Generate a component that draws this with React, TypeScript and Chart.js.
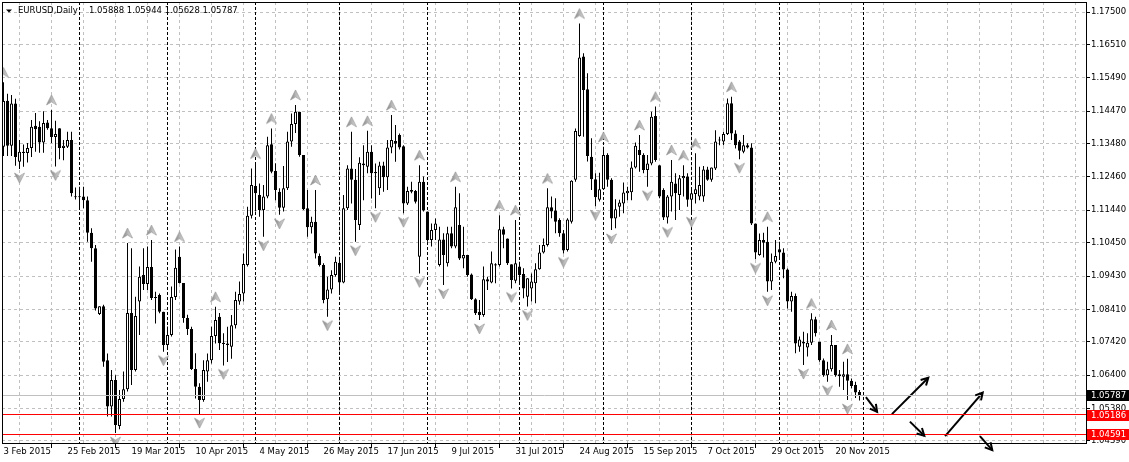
import { useEffect, useRef } from 'react';
import { Chart, registerables } from 'chart.js';

Chart.register(...registerables);

// ---- Daily EURUSD candles, bar 0 = 3 Feb 2015 ... bar 214 = 30 Nov 2015 ----
const openPrices = [
  1.1338, 1.1479, 1.1341, 1.1470, 1.1292, 1.1319, 1.1319, 1.1334, 1.1402, 1.1399,
  1.1351, 1.1412, 1.1395, 1.1368, 1.1395, 1.1334, 1.1338, 1.1359, 1.1186, 1.1184,
  1.1186, 1.1175, 1.1075, 1.1028, 1.0827, 1.0851, 1.0686, 1.0544, 1.0625, 1.0485,
  1.0567, 1.0597, 1.0830, 1.0656, 1.0865, 1.0946, 1.0919, 1.0971, 1.0876, 1.0885,
  1.0834, 1.0732, 1.0763, 1.0879, 1.1002, 1.0922, 1.0815, 1.0781, 1.0659, 1.0605,
  1.0564, 1.0651, 1.0686, 1.0760, 1.0819, 1.0739, 1.0737, 1.0727, 1.0793, 1.0865,
  1.0890, 1.0977, 1.1127, 1.1218, 1.1191, 1.1145, 1.1186, 1.1346, 1.1264, 1.1201,
  1.1152, 1.1211, 1.1354, 1.1408, 1.1445, 1.1313, 1.1150, 1.1092, 1.1109, 1.1004,
  1.0977, 1.0872, 1.0902, 1.0946, 1.0984, 1.0923, 1.1150, 1.1272, 1.1237, 1.1099,
  1.1287, 1.1277, 1.1323, 1.1261, 1.1211, 1.1281, 1.1245, 1.1336, 1.1356, 1.1374,
  1.1340, 1.1165, 1.1206, 1.1203, 1.1002, 1.1231, 1.1140, 1.1053, 1.1084, 1.0977,
  1.1055, 1.0982, 1.1074, 1.1033, 1.1099, 1.0997, 1.1007, 1.0948, 1.0872, 1.0834,
  1.0824, 1.0933, 1.0923, 1.0979, 1.0977, 1.1086, 1.1058, 1.0979, 1.0929, 1.0972,
  1.0949, 1.0880, 1.0905, 1.0921, 1.0964, 1.1015, 1.1038, 1.1153, 1.1143, 1.1114,
  1.1074, 1.1023, 1.1109, 1.1237, 1.1371, 1.1614, 1.1514, 1.1308, 1.1239, 1.1176,
  1.1208, 1.1313, 1.1237, 1.1119, 1.1155, 1.1165, 1.1196, 1.1199, 1.1275, 1.1328,
  1.1313, 1.1267, 1.1287, 1.1432, 1.1282, 1.1206, 1.1122, 1.1186, 1.1226, 1.1191,
  1.1242, 1.1247, 1.1176, 1.1194, 1.1186, 1.1186, 1.1269, 1.1237, 1.1272, 1.1359,
  1.1354, 1.1377, 1.1471, 1.1379, 1.1354, 1.1323, 1.1343, 1.1336, 1.1104, 1.1007,
  1.1053, 1.1048, 1.0926, 1.0987, 1.1025, 1.1015, 1.0963, 1.0865, 1.0882, 1.0727,
  1.0742, 1.0725, 1.0739, 1.0811, 1.0742, 1.0686, 1.0640, 1.0658, 1.0732, 1.0643,
  1.0635, 1.0643, 1.0623, 1.0610, 1.05888,
];
const highPrices = [
  1.1535, 1.1500, 1.1496, 1.1485, 1.1359, 1.1345, 1.1350, 1.1420, 1.1441, 1.1416,
  1.1447, 1.1420, 1.1451, 1.1418, 1.1395, 1.1359, 1.1384, 1.1384, 1.1214, 1.1216,
  1.1216, 1.1186, 1.1089, 1.1038, 1.0851, 1.0855, 1.0706, 1.0656, 1.0640, 1.0595,
  1.0651, 1.1044, 1.1028, 1.0880, 1.0972, 1.1028, 1.1033, 1.1053, 1.0895, 1.0890,
  1.0834, 1.0789, 1.0911, 1.1024, 1.1033, 1.0922, 1.0825, 1.0788, 1.0707, 1.0615,
  1.0686, 1.0706, 1.0788, 1.0849, 1.0830, 1.0768, 1.0788, 1.0824, 1.0895, 1.0926,
  1.1012, 1.1155, 1.1272, 1.1287, 1.1226, 1.1221, 1.1369, 1.1394, 1.1288, 1.1211,
  1.1279, 1.1384, 1.1440, 1.1466, 1.1445, 1.1313, 1.1206, 1.1124, 1.1206, 1.1012,
  1.0982, 1.0941, 1.0961, 1.1002, 1.0997, 1.1191, 1.1282, 1.1384, 1.1270, 1.1306,
  1.1343, 1.1387, 1.1343, 1.1287, 1.1292, 1.1292, 1.1359, 1.1435, 1.1405, 1.1379,
  1.1343, 1.1216, 1.1231, 1.1206, 1.1282, 1.1247, 1.1140, 1.1104, 1.1119, 1.1094,
  1.1074, 1.1094, 1.1094, 1.1216, 1.1196, 1.1094, 1.1007, 1.0951, 1.0875, 1.0870,
  1.0972, 1.0941, 1.1018, 1.0982, 1.1129, 1.1094, 1.1058, 1.0979, 1.1114, 1.0987,
  1.0967, 1.0936, 1.0951, 1.0982, 1.1038, 1.1058, 1.1211, 1.1186, 1.1181, 1.1120,
  1.1084, 1.1120, 1.1236, 1.1394, 1.1715, 1.1624, 1.1563, 1.1364, 1.1257, 1.1259,
  1.1338, 1.1318, 1.1242, 1.1178, 1.1176, 1.1229, 1.1216, 1.1293, 1.1351, 1.1374,
  1.1318, 1.1313, 1.1445, 1.1461, 1.1282, 1.1211, 1.1191, 1.1298, 1.1257, 1.1252,
  1.1282, 1.1257, 1.1206, 1.1318, 1.1277, 1.1279, 1.1277, 1.1275, 1.1389, 1.1369,
  1.1384, 1.1486, 1.1491, 1.1389, 1.1359, 1.1374, 1.1349, 1.1349, 1.1104, 1.1073,
  1.1075, 1.1094, 1.1012, 1.1053, 1.1048, 1.1028, 1.0966, 1.0895, 1.0890, 1.0758,
  1.0773, 1.0768, 1.0829, 1.0819, 1.0742, 1.0691, 1.0681, 1.0763, 1.0732, 1.0656,
  1.0681, 1.0690, 1.0630, 1.0620, 1.05944,
];
const lowPrices = [
  1.1310, 1.1310, 1.1310, 1.1280, 1.1270, 1.1277, 1.1290, 1.1307, 1.1323, 1.1320,
  1.1320, 1.1390, 1.1350, 1.1278, 1.1300, 1.1297, 1.1334, 1.1186, 1.1177, 1.1150,
  1.1150, 1.1048, 1.0987, 1.0838, 1.0824, 1.0666, 1.0514, 1.0514, 1.0463, 1.0475,
  1.0559, 1.0590, 1.0610, 1.0651, 1.0763, 1.0900, 1.0900, 1.0870, 1.0798, 1.0829,
  1.0712, 1.0722, 1.0758, 1.0870, 1.0920, 1.0800, 1.0763, 1.0656, 1.0569, 1.0521,
  1.0559, 1.0620, 1.0676, 1.0737, 1.0717, 1.0670, 1.0680, 1.0690, 1.0783, 1.0855,
  1.0865, 1.0972, 1.1119, 1.1140, 1.1124, 1.1063, 1.1181, 1.1257, 1.1175, 1.1130,
  1.1140, 1.1206, 1.1338, 1.1380, 1.1308, 1.1145, 1.1063, 1.1073, 1.0997, 1.0972,
  1.0860, 1.0819, 1.0890, 1.0941, 1.0890, 1.0921, 1.1145, 1.1165, 1.1048, 1.1084,
  1.1175, 1.1257, 1.1180, 1.1150, 1.1191, 1.1201, 1.1206, 1.1318, 1.1292, 1.1330,
  1.1135, 1.1160, 1.1196, 1.1165, 1.0951, 1.1140, 1.1048, 1.1033, 1.1053, 1.0972,
  1.0916, 1.0972, 1.1028, 1.1028, 1.0992, 1.0967, 1.0941, 1.0870, 1.0824, 1.0809,
  1.0819, 1.0900, 1.0921, 1.0921, 1.0972, 1.1028, 1.0977, 1.0905, 1.0921, 1.0921,
  1.0875, 1.0850, 1.0865, 1.0860, 1.0962, 1.1012, 1.1033, 1.1120, 1.1074, 1.1063,
  1.1012, 1.1018, 1.1104, 1.1231, 1.1369, 1.1369, 1.1293, 1.1206, 1.1156, 1.1171,
  1.1206, 1.1216, 1.1084, 1.1089, 1.1124, 1.1135, 1.1175, 1.1175, 1.1272, 1.1262,
  1.1257, 1.1216, 1.1282, 1.1292, 1.1181, 1.1114, 1.1104, 1.1140, 1.1114, 1.1145,
  1.1186, 1.1155, 1.1135, 1.1165, 1.1175, 1.1170, 1.1234, 1.1231, 1.1267, 1.1343,
  1.1343, 1.1374, 1.1359, 1.1333, 1.1300, 1.1318, 1.1333, 1.1099, 1.0994, 1.1005,
  1.1000, 1.0895, 1.0900, 1.0982, 1.0992, 1.0936, 1.0844, 1.0834, 1.0707, 1.0712,
  1.0671, 1.0697, 1.0732, 1.0758, 1.0681, 1.0635, 1.0620, 1.0651, 1.0635, 1.0605,
  1.0595, 1.0564, 1.0600, 1.0570, 1.05628,
];
const closePrices = [
  1.1478, 1.1341, 1.1470, 1.1307, 1.1323, 1.1323, 1.1334, 1.1399, 1.1392, 1.1351,
  1.1411, 1.1395, 1.1368, 1.1377, 1.1334, 1.1341, 1.1359, 1.1196, 1.1184, 1.1186,
  1.1175, 1.1075, 1.1028, 1.0844, 1.0851, 1.0681, 1.0544, 1.0625, 1.0488, 1.0567,
  1.0597, 1.0830, 1.0656, 1.0821, 1.0941, 1.0919, 1.0971, 1.0876, 1.0879, 1.0834,
  1.0732, 1.0763, 1.0879, 1.0968, 1.0922, 1.0815, 1.0781, 1.0659, 1.0605, 1.0564,
  1.0656, 1.0686, 1.0760, 1.0809, 1.0738, 1.0735, 1.0732, 1.0793, 1.0870, 1.0888,
  1.0980, 1.1127, 1.1221, 1.1196, 1.1145, 1.1186, 1.1343, 1.1262, 1.1206, 1.1152,
  1.1211, 1.1354, 1.1408, 1.1445, 1.1313, 1.1147, 1.1092, 1.1109, 1.1012, 1.0977,
  1.0870, 1.0902, 1.0946, 1.0987, 1.0923, 1.1150, 1.1272, 1.1237, 1.1114, 1.1289,
  1.1282, 1.1323, 1.1257, 1.1257, 1.1281, 1.1245, 1.1336, 1.1359, 1.1347, 1.1336,
  1.1165, 1.1203, 1.1201, 1.1170, 1.1231, 1.1143, 1.1053, 1.1084, 1.1104, 1.1055,
  1.1007, 1.1074, 1.1033, 1.1153, 1.0997, 1.1007, 1.0946, 1.0872, 1.0829, 1.0824,
  1.0933, 1.0926, 1.0982, 1.0975, 1.1086, 1.1069, 1.0982, 1.0931, 1.0982, 1.0946,
  1.0905, 1.0936, 1.0926, 1.0964, 1.1015, 1.1038, 1.1153, 1.1140, 1.1109, 1.1074,
  1.1021, 1.1116, 1.1234, 1.1386, 1.1611, 1.1512, 1.1310, 1.1239, 1.1184, 1.1208,
  1.1313, 1.1237, 1.1119, 1.1147, 1.1168, 1.1198, 1.1204, 1.1275, 1.1341, 1.1313,
  1.1267, 1.1287, 1.1430, 1.1298, 1.1186, 1.1122, 1.1186, 1.1231, 1.1196, 1.1242,
  1.1249, 1.1176, 1.1196, 1.1208, 1.1221, 1.1269, 1.1237, 1.1275, 1.1354, 1.1357,
  1.1377, 1.1471, 1.1379, 1.1343, 1.1326, 1.1343, 1.1336, 1.1104, 1.1015, 1.1053,
  1.1045, 1.0926, 1.0987, 1.1004, 1.1015, 1.0963, 1.0865, 1.0882, 1.0737, 1.0749,
  1.0737, 1.0739, 1.0811, 1.0768, 1.0686, 1.0640, 1.0658, 1.0732, 1.0640, 1.0637,
  1.0643, 1.0623, 1.0607, 1.0587, 1.05787,
];

// Bill Williams fractals (bar indices)
const upFractalBars = [0, 12, 31, 37, 44, 53, 63, 67, 73, 78, 87, 91, 97, 104, 113, 124, 128, 136, 144, 150, 159, 163, 167, 170, 173, 182, 191, 202, 207, 211];
const downFractalBars = [4, 13, 28, 40, 49, 55, 65, 69, 81, 88, 93, 100, 104, 110, 119, 127, 131, 140, 148, 152, 161, 166, 172, 184, 188, 191, 200, 206, 211];

// time axis
const dateLabels = ['3 Feb 2015', '25 Feb 2015', '19 Mar 2015', '10 Apr 2015', '4 May 2015', '26 May 2015', '17 Jun 2015', '9 Jul 2015', '31 Jul 2015', '24 Aug 2015', '15 Sep 2015', '7 Oct 2015', '29 Oct 2015', '20 Nov 2015'];
const dateLabelBars = [0, 16, 32, 48, 64, 80, 96, 112, 128, 144, 160, 176, 192, 208];
const gridBars = [0, 8, 16, 24, 32, 40, 48, 56, 64, 72, 80, 88, 96, 104, 112, 120, 128, 136, 144, 152, 160, 168, 176, 184, 192, 200, 208, 216, 224, 232, 240, 248, 256, 264];
const monthStartBars = [19, 41, 63, 84, 106, 129, 150, 172, 194, 215];

// price axis
const priceTicks = [1.175, 1.1651, 1.1549, 1.1447, 1.1348, 1.1246, 1.1144, 1.1045, 1.0943, 1.0841, 1.0742, 1.064, 1.0538, 1.0439];
const priceMin = 1.04297;
const priceMax = 1.17806;
const barMin = -0.375;
const barMax = 270.875;

// price lines
const bidPrice = 1.05787;
const levelPrices = [1.05186, 1.04591];

// drawn arrows (bar, price)
const arrowFromBar = [215.6, 222.1, 226.6, 235.4, 244.1];
const arrowFromPrice = [1.0573, 1.0521, 1.0498, 1.0454, 1.0454];
const arrowToBar = [218.4, 231.2, 230.2, 244.8, 247.2];
const arrowToPrice = [1.0528, 1.0632, 1.0455, 1.0587, 1.0411];

const symbolName = 'EURUSD,Daily';
const symbolOHLC = '1.05888 1.05944 1.05628 1.05787';

const FONT = '"DejaVu Sans"';
const FS = 8.5;

function makeGlyph(up: boolean): HTMLCanvasElement {
  const c = document.createElement('canvas');
  c.width = 11;
  c.height = 40;
  const g = c.getContext('2d') as CanvasRenderingContext2D;
  g.save();
  if (!up) {
    g.translate(0, 39);
    g.scale(1, -1);
  }
  g.beginPath();
  g.moveTo(5.5, 5);
  g.lineTo(10.5, 15);
  g.lineTo(5.5, 12);
  g.lineTo(0.5, 15);
  g.closePath();
  const grad = g.createLinearGradient(0, 0, 11, 0);
  grad.addColorStop(0, '#7a7a7a');
  grad.addColorStop(0.5, '#b4b4b4');
  grad.addColorStop(1, '#e2e2e2');
  g.fillStyle = grad;
  g.fill();
  g.lineWidth = 0.7;
  g.strokeStyle = '#9a9a9a';
  g.stroke();
  g.restore();
  return c;
}

export default function App() {
  const ref = useRef<HTMLCanvasElement>(null);

  useEffect(() => {
    const canvas = ref.current as HTMLCanvasElement;
    const bars = openPrices.map((_, i) => i);
    const upGlyph = makeGlyph(true);
    const downGlyph = makeGlyph(false);

    const arrowSets = arrowFromBar.map((b, i) => ({
      type: 'line',
      data: [
        { x: b, y: arrowFromPrice[i] },
        { x: arrowToBar[i], y: arrowToPrice[i] },
      ],
      borderColor: '#000000',
      borderWidth: 2,
      pointRadius: 0,
      tension: 0,
      clip: false,
      order: 0,
      isArrow: true,
    }));

    const overlay = {
      id: 'mt4overlay',
      beforeDatasetsDraw(chart: any) {
        const { ctx, chartArea: a, scales } = chart;
        const xs = scales.x;
        ctx.save();
        ctx.beginPath();
        ctx.rect(a.left, a.top, a.right - a.left, a.bottom - a.top);
        ctx.clip();
        ctx.strokeStyle = '#000000';
        ctx.lineWidth = 1;
        ctx.setLineDash([3, 2]);
        for (const b of monthStartBars) {
          const px = Math.round(xs.getPixelForValue(b) - 0.5) + 0.5;
          ctx.beginPath();
          ctx.moveTo(px, a.top);
          ctx.lineTo(px, a.bottom);
          ctx.stroke();
        }
        ctx.restore();
      },
      afterDatasetsDraw(chart: any) {
        const { ctx, chartArea: a, scales } = chart;
        const ys = scales.y;
        ctx.save();
        ctx.lineWidth = 1;
        const hline = (price: number, color: string) => {
          const py = Math.round(ys.getPixelForValue(price) - 0.5) + 0.5;
          ctx.strokeStyle = color;
          ctx.beginPath();
          ctx.moveTo(a.left, py);
          ctx.lineTo(a.right, py);
          ctx.stroke();
        };
        hline(bidPrice, '#c0c0c0');
        levelPrices.forEach((p) => hline(p, '#ff0000'));
        // arrow heads
        ctx.strokeStyle = '#000000';
        ctx.lineWidth = 2;
        chart.data.datasets.forEach((ds: any, i: number) => {
          if (!ds.isArrow) return;
          const meta = chart.getDatasetMeta(i);
          const p0 = meta.data[0];
          const p1 = meta.data[1];
          const ang = Math.atan2(p1.y - p0.y, p1.x - p0.x);
          const len = 8;
          ctx.beginPath();
          ctx.moveTo(p1.x - len * Math.cos(ang - 0.5), p1.y - len * Math.sin(ang - 0.5));
          ctx.lineTo(p1.x, p1.y);
          ctx.lineTo(p1.x - len * Math.cos(ang + 0.5), p1.y - len * Math.sin(ang + 0.5));
          ctx.stroke();
        });
        ctx.restore();
      },
      afterDraw(chart: any) {
        const { ctx, chartArea: a, scales, width } = chart;
        const ys = scales.y;
        ctx.save();
        // frame
        ctx.strokeStyle = '#000000';
        ctx.lineWidth = 1;
        ctx.strokeRect(a.left + 0.5, a.top + 0.5, a.right - a.left - 1, a.bottom - a.top - 1);
        // price boxes
        ctx.font = `${FS}px ${FONT}`;
        ctx.textBaseline = 'middle';
        ctx.textAlign = 'left';
        const box = (price: number, bg: string) => {
          const py = ys.getPixelForValue(price);
          ctx.fillStyle = bg;
          ctx.fillRect(a.right, Math.round(py) - 5, width - a.right, 11);
          ctx.fillStyle = '#ffffff';
          ctx.fillText(price.toFixed(5), a.right + 4, Math.round(py) + 0.5);
        };
        box(bidPrice, '#000000');
        levelPrices.forEach((p) => box(p, '#ff0000'));
        // title
        ctx.fillStyle = '#000000';
        ctx.beginPath();
        ctx.moveTo(6, 9.5);
        ctx.lineTo(12, 9.5);
        ctx.lineTo(9, 12.5);
        ctx.closePath();
        ctx.fill();
        ctx.fillText(symbolName, 18, 11);
        ctx.fillText(symbolOHLC, 89, 11);
        ctx.restore();
      },
    };

    const chart = new Chart(canvas, {
      type: 'bar',
      data: {
        datasets: [
          ...(arrowSets as any[]),
          {
            type: 'scatter',
            data: upFractalBars.map((b) => ({ x: b, y: highPrices[b] })),
            pointStyle: upGlyph,
            pointRadius: 5,
            order: 1,
          },
          {
            type: 'scatter',
            data: downFractalBars.map((b) => ({ x: b, y: lowPrices[b] })),
            pointStyle: downGlyph,
            pointRadius: 5,
            order: 1,
          },
          {
            type: 'bar',
            data: bars.map((i) => ({ x: i, y: [openPrices[i], closePrices[i]] })),
            backgroundColor: (c: any) => (closePrices[c.dataIndex] >= openPrices[c.dataIndex] ? '#ffffff' : '#000000'),
            borderColor: '#000000',
            borderWidth: 1,
            borderSkipped: false,
            barThickness: 3,
            minBarLength: 1,
            inflateAmount: 0,
            grouped: false,
            order: 2,
          },
          {
            type: 'bar',
            data: bars.map((i) => ({ x: i, y: [lowPrices[i], highPrices[i]] })),
            backgroundColor: '#000000',
            borderWidth: 0,
            barThickness: 1,
            minBarLength: 1,
            inflateAmount: 0,
            grouped: false,
            order: 3,
          },
        ] as any[],
      },
      options: {
        responsive: false,
        maintainAspectRatio: false,
        animation: false,
        events: [],
        devicePixelRatio: 1,
        layout: { autoPadding: false, padding: { left: 2, top: 2, right: 0, bottom: 0 } },
        plugins: { legend: { display: false }, tooltip: { enabled: false }, title: { display: false } },
        scales: {
          x: {
            type: 'linear',
            position: 'bottom',
            min: barMin,
            max: barMax,
            offset: false,
            afterBuildTicks: (s: any) => {
              s.ticks = gridBars.map((v) => ({ value: v }));
            },
            afterFit: (s: any) => {
              s.height = 18;
              s.paddingLeft = 0;
              s.paddingRight = 0;
            },
            grid: {
              color: '#c0c0c0',
              lineWidth: 1,
              drawTicks: true,
              tickLength: 4,
              tickWidth: 1,
              tickColor: (c: any) => (c.tick && dateLabelBars.includes(c.tick.value) ? '#000000' : 'rgba(0,0,0,0)'),
            },
            border: { display: false, dash: [3, 3] },
            ticks: {
              autoSkip: false,
              maxRotation: 0,
              minRotation: 0,
              align: 'start',
              padding: 0,
              color: '#000000',
              font: { family: FONT, size: FS, lineHeight: 1 },
              callback: (v: any) => {
                const idx = dateLabelBars.indexOf(Number(v));
                return idx >= 0 ? dateLabels[idx] : '';
              },
            },
          },
          y: {
            type: 'linear',
            position: 'right',
            min: priceMin,
            max: priceMax,
            afterBuildTicks: (s: any) => {
              s.ticks = priceTicks.map((v) => ({ value: v }));
            },
            afterFit: (s: any) => {
              s.width = 42;
              s.paddingTop = 0;
              s.paddingBottom = 0;
            },
            grid: {
              color: '#c0c0c0',
              lineWidth: 1,
              drawTicks: true,
              tickLength: 3,
              tickWidth: 1,
              tickColor: '#000000',
            },
            border: { display: false, dash: [3, 3] },
            ticks: {
              autoSkip: false,
              padding: 1,
              color: '#000000',
              font: { family: FONT, size: FS, lineHeight: 1 },
              callback: (v: any) => Number(v).toFixed(5),
            },
          },
        },
      } as any,
      plugins: [overlay],
    } as any);

    return () => chart.destroy();
  }, []);

  return (
    <div style={{ position: 'fixed', left: 0, top: 0, width: 1129, height: 462, background: '#ffffff' }}>
      <canvas ref={ref} width={1129} height={462} style={{ display: 'block', width: 1129, height: 462 }} />
    </div>
  );
}
